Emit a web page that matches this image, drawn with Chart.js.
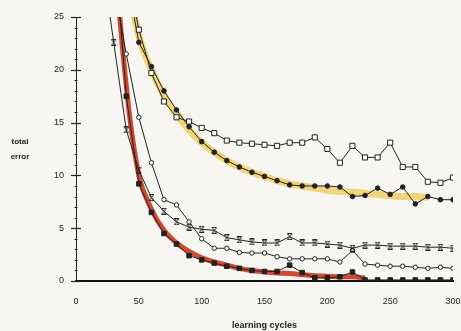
<!DOCTYPE html>
<html><head><meta charset="utf-8">
<script src="https://cdn.jsdelivr.net/npm/chart.js@4/dist/chart.umd.min.js"></script>
<style>html,body{margin:0;padding:0;background:#f8f6f3}#w{width:461px;height:331px}</style>
</head><body><div id="w"><canvas id="c" width="461" height="331"></canvas></div>
<script>
const cycles = [20,30,40,50,60,70,80,90,100,110,120,130,140,150,160,170,180,190,200,210,220,230,240,250,260,270,280,290,300];
const openSquares = [null,null,30,23.8,19.7,17.0,15.5,15.1,14.5,14.0,13.3,13.1,13.0,12.9,12.8,13.1,13.1,13.6,12.5,11.2,12.8,11.7,11.7,13.1,10.8,10.8,9.4,9.3,9.8];
const filledCircles = [null,null,29,22.6,20.3,18.0,16.2,14.6,13.2,12.2,11.4,10.8,10.3,9.9,9.5,9.1,9.0,9.0,9.0,8.9,8.0,8.1,8.8,8.2,8.9,7.3,8.0,7.7,7.7];
const yellowFit = [null,null,29.5,23.2,20.0,17.6,15.8,14.3,13.1,12.2,11.4,10.8,10.3,9.9,9.5,9.2,9.0,8.8,8.6,8.5,8.4,8.3,8.2,8.1,8.0,8.0,7.9,null,null];
const crosses = [31,22.6,14.3,10.5,7.9,6.6,5.6,5.1,4.9,4.8,4.1,3.9,3.7,3.6,3.6,4.2,3.6,3.6,3.5,3.4,3.1,3.4,3.4,3.3,3.3,3.3,3.2,3.2,3.1];
const openCircles = [null,28,21.5,15.5,11.2,7.7,7.2,5.6,4.0,3.1,3.1,2.7,2.65,2.65,2.3,2.1,2.1,2.1,2.1,1.8,2.9,1.6,1.5,1.4,1.4,1.3,1.2,1.3,1.2];
const filledSquares = [null,33,17.5,9.2,6.5,4.5,3.5,2.4,2.0,1.7,1.4,1.2,1.0,0.9,0.9,1.5,0.8,0.3,0.3,0.4,0.85,0.1,0.1,0.1,0.1,0.1,0.1,0.1,0.1];
const redFit = [null,32,18.5,10.0,6.8,4.8,3.6,2.8,2.2,1.8,1.5,1.2,1.0,0.85,0.75,0.7,0.6,0.5,0.45,0.4,0.4,0.3,null,null,null,null,null,null,null];
const xTicks = [0,50,100,150,200,250,300];
const yMajor = [0,5,10,15,20,25];

const ink = '#222';
function pts(arr){ return cycles.map((c,i)=>({x:c,y:arr[i]})).filter(p=>p.y!==null); }
function crossMark(){
  const c=document.createElement('canvas'); c.width=7; c.height=7;
  const g=c.getContext('2d'); g.strokeStyle=ink; g.lineWidth=1;
  g.beginPath();
  g.moveTo(1,0.5); g.lineTo(6,0.5);
  g.moveTo(1,6.5); g.lineTo(6,6.5);
  g.moveTo(1.5,1); g.lineTo(5.5,6);
  g.moveTo(5.5,1); g.lineTo(1.5,6);
  g.stroke(); return c;
}
const bg = {id:'bg', beforeDraw(ch){const g=ch.ctx; g.save(); g.fillStyle='#f8f6f3'; g.fillRect(0,0,ch.width,ch.height); g.restore();}};
const yTicksPlugin = {id:'yt', afterDatasetsDraw(ch){
  const s=ch.scales.y, g=ch.ctx, x=s.right; g.save(); g.strokeStyle=ink;
  for(let v=0; v<=25; v++){
    const y=Math.round(s.getPixelForValue(v))+0.5;
    const major = yMajor.includes(v);
    const l = major?5:1.5;
    g.lineWidth = major?1.2:1;
    g.beginPath(); g.moveTo(x-l,y); g.lineTo(x+l,y); g.stroke();
  }
  g.restore();
}};
const ytitle = {id:'ytitle', afterDraw(ch){
  const g=ch.ctx; g.save(); g.fillStyle=ink; g.font='bold 8px "Liberation Sans", Arial'; g.textAlign='center'; g.textBaseline='middle';
  g.fillText('total',20,142); g.fillText('error',20,157); g.restore();
}};

new Chart(document.getElementById('c'), {
  type:'line',
  data:{datasets:[
    {data:pts(yellowFit), borderColor:'rgba(236,200,70,0.7)', borderWidth:7, pointRadius:0, tension:0.4, order:10},
    {data:pts(redFit), borderColor:'rgba(200,55,30,0.9)', borderWidth:5, pointRadius:0, tension:0.4, order:10},
    {data:pts(openSquares), borderColor:ink, borderWidth:1, pointStyle:'rect', pointRadius:3.6, pointBackgroundColor:'#fff', pointBorderColor:ink, pointBorderWidth:1, order:1},
    {data:pts(filledCircles), borderColor:ink, borderWidth:1, pointStyle:'circle', pointRadius:2.3, pointBackgroundColor:ink, pointBorderColor:ink, order:1},
    {data:pts(crosses), borderColor:ink, borderWidth:1, pointStyle:crossMark(), order:1},
    {data:pts(openCircles), borderColor:ink, borderWidth:1, pointStyle:'circle', pointRadius:2.2, pointBackgroundColor:'#fff', pointBorderColor:ink, pointBorderWidth:1, order:1},
    {data:pts(filledSquares), borderColor:ink, borderWidth:1, pointStyle:'rect', pointRadius:3.2, pointBackgroundColor:ink, pointBorderColor:ink, order:1}
  ]},
  options:{
    responsive:false, animation:false, devicePixelRatio:1,
    layout:{padding:{top:17,right:8,left:0,bottom:0}},
    plugins:{legend:{display:false}, tooltip:{enabled:false}},
    elements:{line:{tension:0}},
    scales:{
      x:{type:'linear', min:0, max:300,
        afterBuildTicks(s){ s.ticks = xTicks.map(v=>({value:v})); },
        afterFit(s){ s.height=50; s.paddingLeft=0; s.paddingRight=0; },
        grid:{display:true, drawOnChartArea:false, drawTicks:false},
        border:{display:true, color:'#111', width:2},
        ticks:{padding:15, color:ink, font:{family:'"Liberation Sans", Arial', size:9}, maxRotation:0},
        title:{display:true, text:'learning cycles', color:ink, font:{family:'"Liberation Sans", Arial', size:9, weight:'bold'}, padding:{top:5,bottom:0}}
      },
      y:{min:0, max:25,
        afterBuildTicks(s){ s.ticks = yMajor.map(v=>({value:v})); },
        afterFit(s){ s.width=76; s.paddingTop=0; s.paddingBottom=0; },
        grid:{display:true, drawOnChartArea:false, drawTicks:false},
        border:{display:true, color:ink, width:1},
        ticks:{padding:12, color:ink, font:{family:'"Liberation Sans", Arial', size:9}}
      }
    }
  },
  plugins:[bg, yTicksPlugin, ytitle]
});
</script></body></html>
